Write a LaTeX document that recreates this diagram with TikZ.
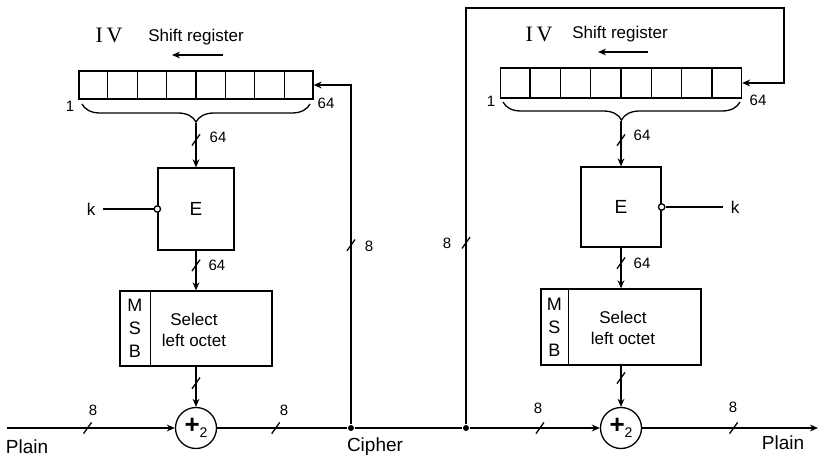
\documentclass[tikz,border=0pt]{standalone}
\usepackage{fontspec}
\setmainfont{Liberation Sans}
\newfontfamily\ivfont{Liberation Serif}
\usepackage{tikz}
\usetikzlibrary{arrows.meta,positioning,calc,decorations.pathreplacing}

% short slanted bus mark on a line
\newcommand{\busslash}[1]{\draw ([shift={(-2pt,-2.8pt)}]#1) -- ([shift={(2pt,2.8pt)}]#1);}

\begin{document}
\begin{tikzpicture}[x=0.5pt, y=-0.5pt, line width=0.65pt,
  every node/.style={font=\fontsize{8.5}{10.5}\selectfont},
  sig/.style={-{Stealth[length=4pt,width=3.4pt]}},
  reg/.style={draw, inner sep=0pt},
  blk/.style={draw, inner sep=0pt},
  xor/.style={draw, circle, minimum size=20.5pt, inner sep=0pt},
  ring/.style={draw, circle, fill=white, minimum size=3.2pt, inner sep=0pt},
  dot/.style={circle, fill, minimum size=3pt, inner sep=0pt},
  num/.style={font=\fontsize{7.5}{9}\selectfont, inner sep=1pt},
  io/.style={font=\fontsize{9.5}{11}\selectfont},
  ivtxt/.style={font=\ivfont\fontsize{11}{12}\selectfont},
  msbtxt/.style={font=\fontsize{9}{11.5}\selectfont, align=center, inner sep=0pt},
  brc/.style={decorate, decoration={brace, mirror, amplitude=9pt}}]

\useasboundingbox (0,0) rectangle (820,465);

%% ── Left half (encipher) ─────────────────────────────────────────────
\node[ivtxt] (ivL) at (109,35) {I\,V};
\node (shL) at (196,37) {Shift register};
\coordinate (dirL0) at (223,55);
\coordinate (dirL1) at (172,55);
\draw[sig] (dirL0) -- (dirL1);

\node[reg, minimum width=117pt, minimum height=14pt] (regL) at (196,85) {};
\foreach \i in {1,...,7}
  \draw ($(regL.north west)!\i/8!(regL.north east)$) -- ($(regL.south west)!\i/8!(regL.south east)$);
\node[num] (oneL) at (70,106) {1};
\node[num] (sfL) at (326,103) {64};

\coordinate (brL0) at (82,104);
\coordinate (brL1) at (310,104);
\draw[brc] (brL0) -- (brL1);
\coordinate (tipL) at (196,123);

\node[blk, minimum width=38pt, minimum height=41pt] (EL) at (196,209) {\fontsize{9.5}{11}\selectfont E};
\draw[sig] (tipL) -- coordinate[pos=0.38] (bEinL) (EL.north);
\busslash{bEinL}
\node[num] (nEinL) at (218,137) {64};

\node (kL) at (91,209) {k};
\node[ring] (rgL) at (EL.west) {};
\draw (kL) -- (rgL);

\node[blk, minimum width=76pt, minimum height=37.5pt] (msbL) at (196,328.5) {};
\draw ([xshift=15.5pt]msbL.north west) -- ([xshift=15.5pt]msbL.south west);
\node[msbtxt] (mL) at ([xshift=7.75pt]msbL.west) {M\\S\\B};
\node[align=center] (selL) at (194,330) {Select\\left octet};
\draw[sig] (EL.south) -- coordinate[pos=0.37] (bEoutL) (msbL.north);
\busslash{bEoutL}
\node[num] (nEoutL) at (217,265) {64};

\node[xor] (xorL) at (196,428) {{\fontsize{13}{13}\selectfont\textbf{+}}\raisebox{-2pt}{\fontsize{7}{8}\selectfont 2}};
\draw[sig] (msbL.south) -- coordinate[pos=0.41] (bMsbL) (xorL.north);
\busslash{bMsbL}

%% ── Plain in, cipher out ─────────────────────────────────────────────
\coordinate (inL) at (7,428);
\draw[sig] (inL) -- coordinate[pos=0.48] (bInL) (xorL);
\busslash{bInL}
\node[num] (nInL) at (93,410) {8};
\node[io] (plainL) at (27,447) {Plain};

\node[dot] (jL) at (351,428) {};
\draw (xorL) -- coordinate[pos=0.45] (bOutL) (jL);
\busslash{bOutL}
\node[num] (nOutL) at (284,410) {8};

% feedback into left register
\draw[sig] (jL) |- coordinate[pos=0.264] (bFbL) (regL.east);
\busslash{bFbL}
\node[num] (nFbL) at (369,246) {8};

\node[dot] (jR) at (466,428) {};
\draw (jL) -- (jR);
\node[io] (ciph) at (375,447) {Cipher};

%% ── Right half (decipher) ────────────────────────────────────────────
\node[ivtxt] (ivR) at (539,34) {I\,V};
\node (shR) at (620,34) {Shift register};
\coordinate (dirR0) at (648,52);
\coordinate (dirR1) at (598,52);
\draw[sig] (dirR0) -- (dirR1);

\node[reg, minimum width=120.5pt, minimum height=15pt] (regR) at (621,83) {};
\foreach \i in {1,...,7}
  \draw ($(regR.north west)!\i/8!(regR.north east)$) -- ($(regR.south west)!\i/8!(regR.south east)$);
\node[num] (oneR) at (491,101) {1};
\node[num] (sfR) at (758,100) {64};

\coordinate (brR0) at (503,102);
\coordinate (brR1) at (740,102);
\draw[brc] (brR0) -- (brR1);
\coordinate (tipR) at (621,121);

\node[blk, minimum width=40pt, minimum height=40pt] (ER) at (621,207) {\fontsize{9.5}{11}\selectfont E};
\draw[sig] (tipR) -- coordinate[pos=0.42] (bEinR) (ER.north);
\busslash{bEinR}
\node[num] (nEinR) at (642,135) {64};

\node (kR) at (735,207) {k};
\node[ring] (rgR) at (ER.east) {};
\draw (rgR) -- (kR);

\node[blk, minimum width=80pt, minimum height=38pt] (msbR) at (621,327) {};
\draw ([xshift=14pt]msbR.north west) -- ([xshift=14pt]msbR.south west);
\node[msbtxt] (mR) at ([xshift=7pt]msbR.west) {M\\S\\B};
\node[align=center] (selR) at (623,328) {Select\\left octet};
\draw[sig] (ER.south) -- coordinate[pos=0.38] (bEoutR) (msbR.north);
\busslash{bEoutR}
\node[num] (nEoutR) at (642,263) {64};

\node[xor] (xorR) at (621,428) {{\fontsize{13}{13}\selectfont\textbf{+}}\raisebox{-2pt}{\fontsize{7}{8}\selectfont 2}};
\draw[sig] (msbR.south) -- coordinate[pos=0.3] (bMsbR) (xorR.north);
\busslash{bMsbR}

\draw[sig] (jR) -- coordinate[pos=0.54] (bInR) (xorR);
\busslash{bInR}
\node[num] (nInR) at (538,408) {8};

\coordinate (outR) at (818,428);
\draw[sig] (xorR) -- coordinate[pos=0.52] (bOutR) (outR);
\busslash{bOutR}
\node[num] (nOutR) at (733,407) {8};
\node[io] (plainR) at (783,443) {Plain};

% feedback round the top into right register
\coordinate (topR) at (784,8);
\draw[sig] (jR) |- coordinate[pos=0.218] (bFbR) (topR) |- (regR.east);
\busslash{bFbR}
\node[num] (nFbR) at (447,243) {8};

\end{tikzpicture}
\end{document}
